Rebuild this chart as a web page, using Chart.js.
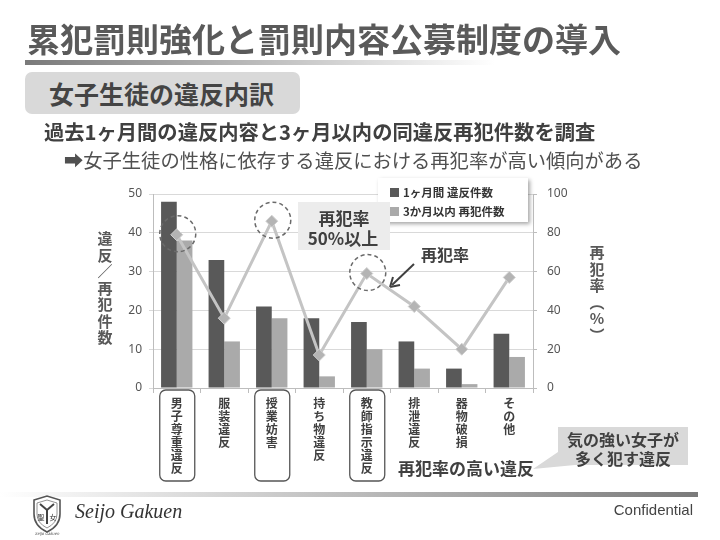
<!DOCTYPE html>
<html>
<head>
<meta charset="utf-8">
<script src="https://cdn.jsdelivr.net/npm/chart.js@4.4.0/dist/chart.umd.min.js"></script>
<style>
  body { margin: 0; width: 720px; height: 540px; overflow: hidden; background: #fff; position: relative;
         font-family: "Noto Sans CJK JP", "Noto Sans", sans-serif; }
  #wrap { position: absolute; left: 0; top: 0; width: 720px; height: 540px; }
  .abs { position: absolute; white-space: nowrap; }
  #title { left: 27px; top: 16px; font-size: 33px; font-weight: bold; color: #5a5a5a; line-height: 44px; }
  #topline { left: 25px; top: 60px; width: 470px; height: 5px; background: linear-gradient(to right, #7a7a7a, #fff); }
  #section { left: 25px; top: 72px; width: 275px; height: 42px; background: #d9d9d9; border-radius: 7px;
             font-size: 25px; font-weight: bold; color: #444; line-height: 42px; text-indent: 24px; }
  #sub1 { left: 44px; top: 118px; font-size: 20.3px; font-weight: bold; color: #404040; line-height: 26px; }
  #sub2 { left: 64px; top: 147px; font-size: 19.3px; color: #505050; line-height: 26px; }
  .vtitle { text-align: center; font-weight: bold; color: #595959; font-size: 15px; line-height: 16.5px; width: 20px; }
  #ytitle { left: 95px; top: 230px; }
  #y1title { left: 587px; top: 244px; }
  #botline { left: 0; top: 492px; width: 698px; height: 5px; background: linear-gradient(to right, #fff, #7a7a7a); }
  #brand { left: 75px; top: 497px; font-family: "Liberation Serif", serif; font-style: italic; font-size: 20px; color: #333; line-height: 28px; }
  #conf { right: 27px; top: 499px; font-family: "Liberation Sans", sans-serif; font-size: 15px; color: #444; line-height: 22px; }
  #logo { left: 30px; top: 494px; }
</style>
</head>
<body>
<div id="wrap"><canvas id="chart"></canvas></div>
<div class="abs" id="title">累犯罰則強化と罰則内容公募制度の導入</div>
<div class="abs" id="topline"></div>
<div class="abs" id="section">女子生徒の違反内訳</div>
<div class="abs" id="sub1">過去1ヶ月間の違反内容と3ヶ月以内の同違反再犯件数を調査</div>
<div class="abs" id="sub2">➡女子生徒の性格に依存する違反における再犯率が高い傾向がある</div>
<div class="abs vtitle" id="ytitle">違<br>反<br>／<br>再<br>犯<br>件<br>数</div>
<div class="abs vtitle" id="y1title">再<br>犯<br>率<br>︵<br>%<br>︶</div>
<div class="abs" id="botline"></div>
<svg class="abs" id="logo" width="34" height="42" viewBox="0 0 34 42">
  <path d="M4 6 L17 2 L30 6 L30 20 Q30 32 17 38 Q4 32 4 20 Z" fill="#fff" stroke="#555" stroke-width="1.6"/>
  <path d="M7 9 L17 6 L27 9 L27 20 Q27 29 17 34 Q7 29 7 20 Z" fill="none" stroke="#777" stroke-width="0.8"/>
  <path d="M10 10 L17 16 L24 10 M17 16 L17 30" fill="none" stroke="#444" stroke-width="2"/>
  <text x="11" y="26" font-size="7" fill="#333" text-anchor="middle">聖</text>
  <text x="23" y="26" font-size="7" fill="#333" text-anchor="middle">女</text>
  <text x="17" y="41" font-size="4" fill="#555" text-anchor="middle" font-style="italic">Seijo Gakuen</text>
</svg>
<div class="abs" id="brand">Seijo Gakuen</div>
<div class="abs" id="conf">Confidential</div>

<script>
// 違反の種類
const categories = ['男子尊重違反', '服装違反', '授業妨害', '持ち物違反', '教師指示違反', '排泄違反', '器物破損', 'その他'];
// 1ヶ月間 違反件数
const monthCounts = [48, 33, 21, 18, 17, 12, 5, 14];
// 3か月以内 再犯件数
const repeatCounts = [38, 12, 18, 3, 10, 5, 1, 8];
// 再犯率 (%)
const repeatRates = [79, 36, 86, 17, 59, 42, 20, 57];
// 再犯率の高い違反
const highlighted = [0, 2, 4];
const countMax = 50, countStep = 10;
const rateMax = 100, rateStep = 20;

const darkGray = '#595959';
const lightGray = '#aaaaaa';
const tickFont = { family: '"Noto Sans", "DejaVu Sans", sans-serif', size: 12 };

function roundRect(ctx, x, y, w, h, r) {
  ctx.beginPath();
  ctx.moveTo(x + r, y);
  ctx.arcTo(x + w, y, x + w, y + h, r);
  ctx.arcTo(x + w, y + h, x, y + h, r);
  ctx.arcTo(x, y + h, x, y, r);
  ctx.arcTo(x, y, x + w, y, r);
  ctx.closePath();
}

const decor = {
  id: 'decor',
  afterDatasetsDraw(chart) {
    const ctx = chart.ctx;
    const pts = chart.getDatasetMeta(2).data;
    ctx.save();
    ctx.setLineDash([4, 3]);
    ctx.strokeStyle = '#6a6a6a';
    ctx.lineWidth = 1.5;
    highlighted.forEach(i => {
      ctx.beginPath();
      ctx.arc(pts[i].x + 1, pts[i].y - 1, 18, 0, Math.PI * 2);
      ctx.stroke();
    });
    ctx.restore();
  },
  afterDraw(chart) {
    const ctx = chart.ctx;
    const x = chart.scales.x;
    ctx.save();

    // ラベル枠
    ctx.strokeStyle = '#555';
    ctx.lineWidth = 1.3;
    highlighted.forEach(i => {
      const cx = x.getPixelForValue(i);
      roundRect(ctx, cx - 17, 390, 35, 91, 6);
      ctx.stroke();
    });

    // 凡例
    ctx.save();
    ctx.shadowColor = 'rgba(0,0,0,0.35)';
    ctx.shadowBlur = 4;
    ctx.shadowOffsetX = 2;
    ctx.shadowOffsetY = 2;
    ctx.fillStyle = '#fff';
    ctx.fillRect(378, 178, 150, 44);
    ctx.restore();
    ctx.font = 'bold 11.5px "Noto Sans CJK JP"';
    ctx.textBaseline = 'middle';
    ctx.textAlign = 'left';
    ctx.fillStyle = darkGray;
    ctx.fillRect(390, 188, 9, 9);
    ctx.fillStyle = '#333';
    ctx.fillText('1ヶ月間 違反件数', 403, 192.5);
    ctx.fillStyle = lightGray;
    ctx.fillRect(390, 207, 9, 9);
    ctx.fillStyle = '#333';
    ctx.fillText('3か月以内 再犯件数', 403, 211.5);

    // 再犯率 50%以上
    ctx.fillStyle = '#ececec';
    ctx.fillRect(298, 202, 92, 48);
    ctx.fillStyle = '#404040';
    ctx.font = 'bold 17px "Noto Sans CJK JP"';
    ctx.textAlign = 'center';
    ctx.fillText('再犯率', 344, 219);
    ctx.fillText('50%以上', 343, 239);

    // 再犯率 矢印
    ctx.textAlign = 'left';
    ctx.font = 'bold 16px "Noto Sans CJK JP"';
    ctx.fillText('再犯率', 421, 255);
    ctx.strokeStyle = '#404040';
    ctx.lineWidth = 2;
    ctx.beginPath();
    ctx.moveTo(414, 264);
    ctx.lineTo(392, 285);
    ctx.stroke();
    ctx.beginPath();
    ctx.moveTo(390, 287);
    ctx.lineTo(393, 277);
    ctx.moveTo(390, 287);
    ctx.lineTo(400, 285);
    ctx.stroke();

    // 吹き出し
    ctx.fillStyle = '#d9d9d9';
    ctx.beginPath();
    ctx.moveTo(558, 427);
    ctx.lineTo(688, 427);
    ctx.lineTo(688, 465);
    ctx.lineTo(575, 465);
    ctx.lineTo(533, 469);
    ctx.lineTo(558, 452);
    ctx.closePath();
    ctx.fill();
    ctx.fillStyle = '#404040';
    ctx.font = 'bold 16px "Noto Sans CJK JP"';
    ctx.textAlign = 'center';
    ctx.fillText('気の強い女子が', 623, 440);
    ctx.fillText('多く犯す違反', 623, 459);

    ctx.textAlign = 'left';
    ctx.font = 'bold 17px "Noto Sans CJK JP"';
    ctx.fillText('再犯率の高い違反', 398, 469);
    ctx.restore();
  }
};

new Chart(document.getElementById('chart'), {
  data: {
    labels: categories.map(c => c.split('')),
    datasets: [
      {
        type: 'bar',
        label: '1ヶ月間 違反件数',
        data: monthCounts,
        backgroundColor: darkGray,
        yAxisID: 'y',
        order: 2,
        categoryPercentage: 0.66,
        barPercentage: 1.0
      },
      {
        type: 'bar',
        label: '3か月以内 再犯件数',
        data: repeatCounts,
        backgroundColor: lightGray,
        yAxisID: 'y',
        order: 2,
        categoryPercentage: 0.66,
        barPercentage: 1.0
      },
      {
        type: 'line',
        label: '再犯率',
        data: repeatRates,
        yAxisID: 'y1',
        borderColor: '#c4c4c4',
        borderWidth: 3,
        pointStyle: 'rectRot',
        pointRadius: 6,
        pointBackgroundColor: '#b4b4b4',
        pointBorderColor: '#cfcfcf',
        pointBorderWidth: 1,
        tension: 0,
        order: 1
      }
    ]
  },
  options: {
    responsive: true,
    maintainAspectRatio: false,
    animation: false,
    layout: { padding: { top: 194, left: 0, right: 0, bottom: 0 } },
    plugins: { legend: { display: false }, tooltip: { enabled: false } },
    scales: {
      x: {
        afterFit: s => { s.height = 152; },
        grid: { display: true, drawOnChartArea: false, color: '#bdbdbd', tickLength: 5, offset: true },
        border: { color: '#bdbdbd' },
        ticks: {
          maxRotation: 0,
          autoSkip: false,
          padding: 4,
          color: '#404040',
          font: { family: '"Noto Sans CJK JP"', size: 12, weight: 'bold', lineHeight: 1.08 }
        }
      },
      y: {
        position: 'left',
        min: 0, max: countMax,
        afterFit: s => { s.width = 153; },
        grid: { color: '#d9d9d9', tickLength: 4 },
        border: { color: '#bdbdbd' },
        ticks: { stepSize: countStep, padding: 7, color: '#555', font: tickFont }
      },
      y1: {
        position: 'right',
        min: 0, max: rateMax,
        afterFit: s => { s.width = 187; },
        grid: { drawOnChartArea: false, color: '#bdbdbd', tickLength: 4 },
        border: { color: '#bdbdbd' },
        ticks: { stepSize: rateStep, padding: 10, color: '#555', font: tickFont }
      }
    }
  },
  plugins: [decor]
});
</script>
</body>
</html>
